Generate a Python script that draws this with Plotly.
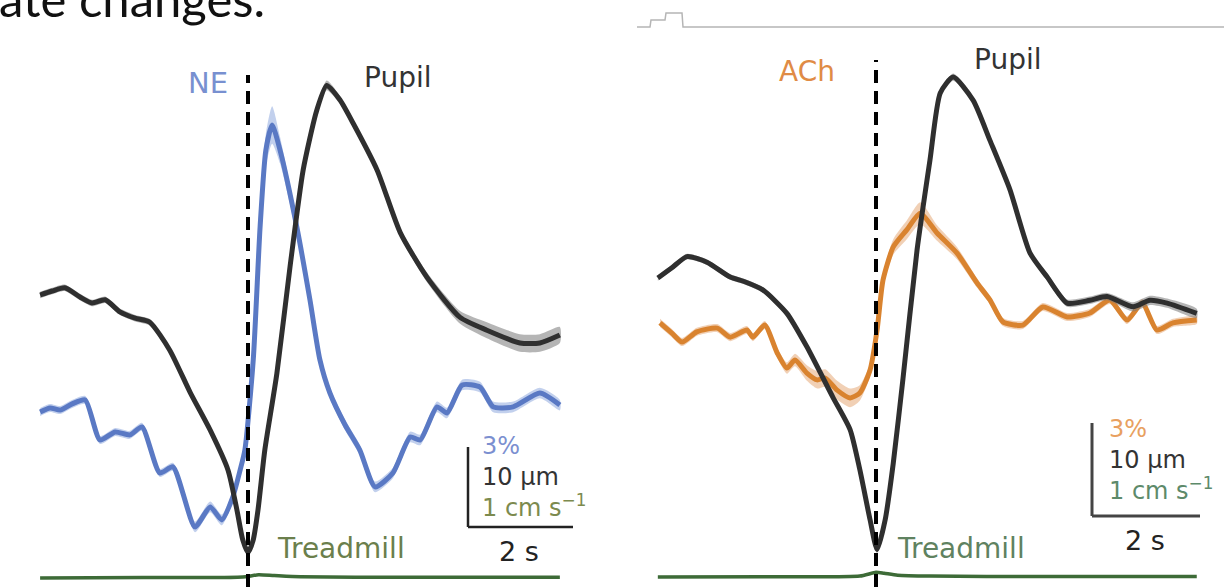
import plotly.graph_objects as go

W, H = 1224, 587

# ---------------- data (left panel: NE) ----------------
ne_t = [-3.96, -3.77, -3.58, -3.35, -3.10, -2.82, -2.53, -2.25, -2.02, -1.68, -1.43, -1.01,
        -0.72, -0.50, -0.29, -0.15, -0.06, 0.10, 0.23, 0.34, 0.46, 0.61, 0.93, 1.18, 1.37,
        1.56, 1.85, 2.13, 2.42, 2.76, 3.09, 3.28, 3.60, 3.79, 4.08, 4.42, 4.67, 5.05, 5.56, 5.94]
ne_val = [-0.26, -0.11, -0.19, 0.04, 0.19, -1.31, -1.01, -1.12, -0.82, -2.55, -2.32, -4.57,
          -3.82, -4.31, -3.45, -2.44, -1.69, 1.69, 6.67, 9.56, 10.50, 9.56, 6.67, 3.94, 1.69,
          0.45, -0.75, -1.69, -3.07, -2.55, -1.20, -1.31, -0.07, -0.30, 0.75, 0.67, -0.07, -0.07, 0.45, 0.00]
ne_sem = [0.15, 0.15, 0.15, 0.15, 0.15, 0.15, 0.15, 0.15, 0.15, 0.15, 0.15, 0.2,
          0.2, 0.2, 0.2, 0.2, 0.2, 0.25, 0.4, 0.6, 0.7, 0.5, 0.3, 0.2, 0.2,
          0.2, 0.2, 0.2, 0.2, 0.2, 0.2, 0.2, 0.2, 0.2, 0.2, 0.2, 0.2, 0.2, 0.2, 0.2]

pupL_t = [-3.96, -3.73, -3.49, -3.20, -2.97, -2.72, -2.44, -2.15, -1.87, -1.49, -1.10, -0.72,
          -0.38, -0.21, -0.10, 0.00, 0.10, 0.19, 0.32, 0.55, 0.80, 1.05, 1.31, 1.50, 1.75,
          2.00, 2.46, 2.90, 3.41, 4.04, 4.55, 5.18, 5.56, 5.94]
pupL_val = [0.0, 0.5, 0.9, -0.25, -1.0, -0.6, -2.1, -2.9, -3.4, -6.9, -12.2, -16.9,
            -21.9, -26.9, -30.6, -32.2, -30.6, -26.9, -19.4, -9.8, 3.5, 15.6, 23.1, 26.2, 24.4,
            21.5, 15.6, 7.8, 2.2, -2.8, -4.4, -6.0, -6.0, -5.0]
pupL_sem = [0.4, 0.4, 0.4, 0.4, 0.4, 0.4, 0.4, 0.4, 0.4, 0.4, 0.4, 0.4,
            0.4, 0.4, 0.4, 0.5, 0.4, 0.4, 0.4, 0.4, 0.4, 0.5, 0.5, 0.6, 0.5,
            0.5, 0.5, 0.5, 0.6, 0.8, 1.0, 1.1, 1.1, 1.0]

treadL_t = [-3.96, -2.0, -0.2, 0.0, 0.2, 0.5, 1.0, 3.0, 5.94]
treadL_val = [0.0, 0.005, 0.01, 0.02, 0.04, 0.03, 0.015, 0.01, 0.01]

# ---------------- data (right panel: ACh) ----------------
ach_t = [-4.00, -3.78, -3.59, -3.32, -2.94, -2.70, -2.39, -2.28, -2.06, -1.83, -1.65, -1.50,
         -1.28, -1.09, -0.94, -0.72, -0.48, -0.30, -0.11, 0.02, 0.13, 0.32, 0.57, 0.82, 1.13,
         1.50, 1.87, 2.11, 2.35, 2.72, 3.09, 3.54, 3.96, 4.33, 4.65, 4.93, 5.20, 5.50, 5.94]
ach_val = [0.23, -0.10, -0.39, -0.06, 0.06, -0.23, 0.00, -0.23, 0.16, -0.74, -1.23, -0.97,
           -1.39, -1.61, -1.55, -1.94, -2.19, -2.03, -1.29, 0.00, 1.61, 2.68, 3.23, 3.77, 3.13,
           2.48, 1.52, 0.97, 0.26, 0.16, 0.74, 0.42, 0.55, 0.97, 0.32, 0.87, 0.00, 0.23, 0.32]
ach_sem = [0.13, 0.13, 0.13, 0.13, 0.13, 0.13, 0.13, 0.13, 0.13, 0.15, 0.18, 0.2,
           0.25, 0.28, 0.28, 0.3, 0.3, 0.25, 0.2, 0.18, 0.2, 0.25, 0.3, 0.35, 0.25,
           0.2, 0.15, 0.13, 0.13, 0.13, 0.13, 0.13, 0.13, 0.13, 0.13, 0.13, 0.13, 0.13, 0.13]

pupR_t = [-4.04, -3.78, -3.50, -3.13, -2.70, -2.43, -2.09, -1.65, -1.28, -0.80, -0.48, -0.30,
          -0.11, 0.02, 0.17, 0.32, 0.50, 0.76, 1.00, 1.19, 1.43, 1.80, 2.11, 2.48, 2.85,
          3.17, 3.54, 3.96, 4.28, 4.76, 5.07, 5.39, 5.94]
pupR_val = [0.0, 1.1, 2.3, 1.7, 0.1, -0.4, -1.3, -3.8, -7.4, -12.8, -16.3, -20.6,
            -26.0, -29.2, -26.0, -19.9, -10.8, 3.0, 12.7, 19.9, 21.6, 19.1, 14.8, 9.5, 2.7,
            0.1, -2.7, -2.4, -2.0, -3.1, -2.4, -2.7, -3.8]
pupR_sem = [0.3, 0.3, 0.3, 0.3, 0.3, 0.3, 0.3, 0.3, 0.3, 0.3, 0.3, 0.3,
            0.3, 0.4, 0.3, 0.3, 0.3, 0.3, 0.3, 0.3, 0.4, 0.3, 0.3, 0.3, 0.3,
            0.4, 0.4, 0.4, 0.4, 0.5, 0.5, 0.5, 0.5]

treadR_t = [-4.04, -2.0, -0.3, 0.0, 0.15, 0.4, 1.0, 3.0, 5.94]
treadR_val = [0.0, 0.003, 0.01, 0.05, 0.04, 0.02, 0.01, 0.005, 0.005]

# fragment of a neighbouring figure at top right (page px)
inset_px = [637, 650, 651, 665, 666, 682, 683, 1224]
inset_py = [27, 27, 20, 20, 13, 13, 27, 27]

# ---------------- colours ----------------
BLUE = "#5a79c4"
BLUE_BAND = "rgba(120,150,215,0.45)"
ORANGE = "#d9832f"
ORANGE_BAND = "rgba(225,150,90,0.45)"
DARK = "#2f2f2f"
GREY_BAND = "rgba(120,120,120,0.55)"
GREEN = "#3d6b37"


def px2x(px):
    return px / W


def py2y(py):
    return 1 - py / H


fig = go.Figure()


def band(t, m, s, color, xa, ya):
    up = [a + b for a, b in zip(m, s)]
    lo = [a - b for a, b in zip(m, s)]
    fig.add_trace(go.Scatter(x=t + t[::-1], y=up + lo[::-1], fill="toself", fillcolor=color,
                             line=dict(width=0, shape="spline", smoothing=0.6), mode="lines",
                             hoverinfo="skip", showlegend=False, xaxis=xa, yaxis=ya))


def line(t, m, color, w, xa, ya):
    fig.add_trace(go.Scatter(x=t, y=m, mode="lines",
                             line=dict(color=color, width=w, shape="spline", smoothing=0.6),
                             showlegend=False, xaxis=xa, yaxis=ya))


# inset fragment (drawn first, bottom layer)
fig.add_trace(go.Scatter(x=[px2x(p) for p in inset_px], y=[py2y(p) for p in inset_py],
                         mode="lines", line=dict(color="#b5b5b5", width=1.5),
                         showlegend=False, xaxis="x3", yaxis="y7"))

# left panel
band(pupL_t, pupL_val, pupL_sem, GREY_BAND, "x", "y2")
line(pupL_t, pupL_val, DARK, 5, "x", "y2")
band(ne_t, ne_val, ne_sem, BLUE_BAND, "x", "y")
line(ne_t, ne_val, BLUE, 5, "x", "y")
line(treadL_t, treadL_val, GREEN, 3.5, "x", "y3")

# right panel
band(pupR_t, pupR_val, pupR_sem, GREY_BAND, "x2", "y5")
line(pupR_t, pupR_val, DARK, 5, "x2", "y5")
band(ach_t, ach_val, ach_sem, ORANGE_BAND, "x2", "y4")
line(ach_t, ach_val, ORANGE, 5, "x2", "y4")
line(treadR_t, treadR_val, GREEN, 3.5, "x2", "y6")

# ---------------- axes ----------------
# left: 52.5 px per s, t=0 at px 248 ; right: 54 px per s, t=0 at px 876
hid = dict(visible=False, showgrid=False, zeroline=False, fixedrange=True)
fig.update_layout(
    xaxis=dict(domain=[0, 0.5], anchor="y", range=[-248 / 52.5, (612 - 248) / 52.5], **hid),
    xaxis2=dict(domain=[0.5, 1], anchor="y4", range=[(612 - 876) / 54, (1224 - 876) / 54], **hid),
    xaxis3=dict(domain=[0, 1], anchor="y7", range=[0, 1], **hid),
    # NE %: 0 at py 405, 26.67 px per %
    yaxis=dict(domain=[0, 1], anchor="x", range=[(405 - 587) / 26.67, 405 / 26.67], **hid),
    # pupil um: 0 at py 295, 8 px per um
    yaxis2=dict(overlaying="y", anchor="x", range=[(295 - 587) / 8, 295 / 8], **hid),
    # treadmill cm/s: 0 at py 578, 80 px per cm/s
    yaxis3=dict(overlaying="y", anchor="x", range=[(578 - 587) / 80, 578 / 80], **hid),
    # ACh %: 0 at py 330, 31 px per %
    yaxis4=dict(domain=[0, 1], anchor="x2", range=[(330 - 587) / 31, 330 / 31], **hid),
    yaxis5=dict(overlaying="y4", anchor="x2", range=[(278 - 587) / 9.3, 278 / 9.3], **hid),
    yaxis6=dict(overlaying="y4", anchor="x2", range=[(577 - 587) / 93, 577 / 93], **hid),
    yaxis7=dict(domain=[0, 1], anchor="x3", range=[0, 1], **hid),
)

shapes = []
# dashed event lines at t = 0
shapes.append(dict(type="line", xref="x", yref="paper", x0=0, x1=0, y0=0, y1=py2y(75),
                   line=dict(color="black", width=4, dash="13px,8px")))
shapes.append(dict(type="line", xref="x2", yref="paper", x0=0, x1=0, y0=0, y1=py2y(60),
                   line=dict(color="black", width=4, dash="13px,8px")))
# scale bars: 3 % vertical, 2 s horizontal
sbL_t, sbL_y = (468 - 248) / 52.5, (405 - 527) / 26.67
shapes.append(dict(type="line", xref="x", yref="y", x0=sbL_t, x1=sbL_t, y0=sbL_y, y1=sbL_y + 3,
                   line=dict(color="#222", width=2.5)))
shapes.append(dict(type="line", xref="x", yref="y", x0=sbL_t, x1=sbL_t + 2, y0=sbL_y, y1=sbL_y,
                   line=dict(color="#222", width=2.5)))
sbR_t, sbR_y = (1092 - 876) / 54, (330 - 516) / 31
shapes.append(dict(type="line", xref="x2", yref="y4", x0=sbR_t, x1=sbR_t, y0=sbR_y, y1=sbR_y + 3,
                   line=dict(color="#444", width=3)))
shapes.append(dict(type="line", xref="x2", yref="y4", x0=sbR_t, x1=sbR_t + 2, y0=sbR_y, y1=sbR_y,
                   line=dict(color="#444", width=3)))
fig.update_layout(shapes=shapes)

FONT = "DejaVu Sans, Verdana, sans-serif"
ann = []


def txt(s, px, py, size, color, xanchor="left", family=FONT, align="left"):
    ann.append(dict(text=s, x=px2x(px), y=py2y(py), xref="paper", yref="paper",
                    xanchor=xanchor, yanchor="middle", showarrow=False, align=align,
                    font=dict(family=family, size=size, color=color)))


def stack(lines_colors):
    return "<br>".join(f"<span style='color:{c}'>{s}</span>" for s, c in lines_colors)


txt("ate changes.", -3, -2, 49, "#111", family="Lato, Noto Sans, sans-serif")
txt("NE", 186, 83, 29, "#7890d0")
txt("Pupil", 362, 77, 28, "#333")
txt("Treadmill", 275, 548, 28, "#6b7f4c")
txt(stack([("3%", "#7b8fd0"), ("10 µm", "#333"), ("1 cm s<sup>−1</sup>", "#7c8a4e")]),
    480, 477, 24, "#333")
txt("2 s", 519, 551, 27, "#222", xanchor="center")

txt("ACh", 777, 72, 28, "#e08b45")
txt("Pupil", 972, 60, 28, "#333")
txt("Treadmill", 895, 548, 28, "#5f8260")
txt(stack([("3%", "#e8a060"), ("10 µm", "#333"), ("1 cm s<sup>−1</sup>", "#5d8a6a")]),
    1107, 460, 24, "#333")
txt("2 s", 1145, 540, 27, "#222", xanchor="center")

fig.update_layout(annotations=ann, width=W, height=H,
                  margin=dict(l=0, r=0, t=0, b=0),
                  paper_bgcolor="white", plot_bgcolor="rgba(0,0,0,0)",
                  showlegend=False)

fig.write_html("out.html", config={"displayModeBar": False},
               post_script="document.body.style.margin='0px';")
